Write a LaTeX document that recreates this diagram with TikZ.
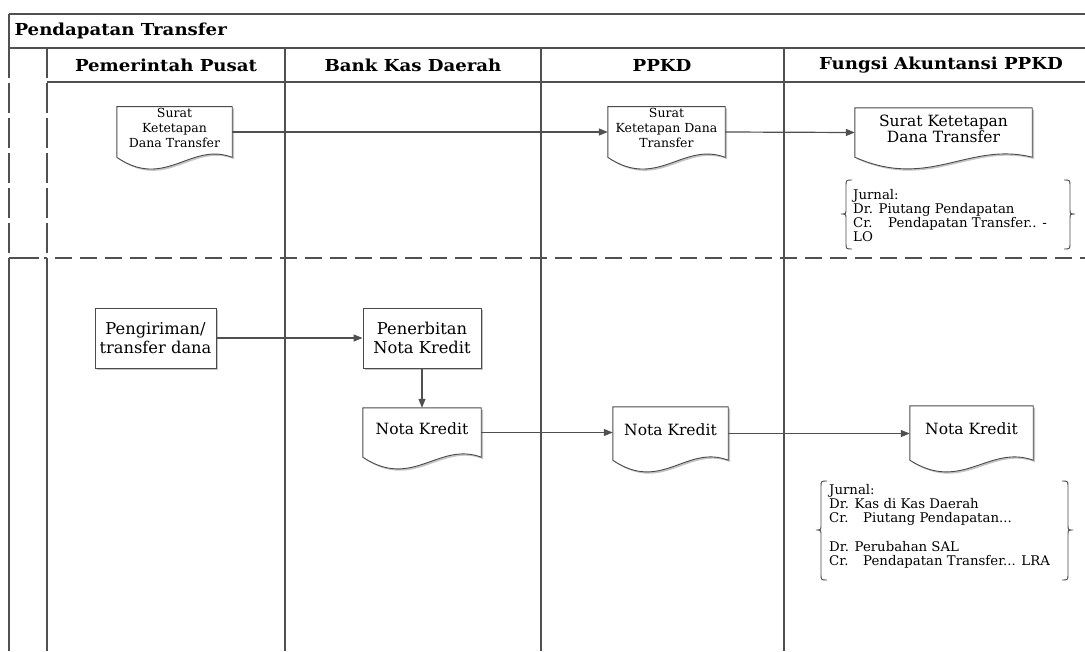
\documentclass[tikz,border=0pt]{standalone}
\usepackage{fontspec}
\setmainfont{DejaVu Serif}
\newfontfamily\headfont[FakeStretch=1.1]{DejaVu Serif}
\usetikzlibrary{arrows.meta,calc,backgrounds,shadows}
\definecolor{lanegray}{HTML}{505050}
\definecolor{shapegray}{HTML}{4A4A4A}
\definecolor{shadowgray}{HTML}{C4C4C4}

\tikzset{
  lane/.style={draw=lanegray, line width=1.3pt},
  lanedash/.style={lane, dash pattern=on 17pt off 8pt},
  stripdash/.style={lane, dash pattern=on 30pt off 5pt},
  proc/.style={draw=shapegray, line width=0.9pt, fill=white, rectangle, align=center,
    font=\fontsize{16.3}{19}\selectfont, inner sep=2pt,
    drop shadow={shadow xshift=1.8pt, shadow yshift=-1.8pt, fill=shadowgray, opacity=1}},
  docnode/.style={draw=none, rectangle, align=center, inner sep=1pt},
  docsmall/.style={docnode, font=\fontsize{12.5}{15}\selectfont, text depth=9pt},
  doclarge/.style={docnode, font=\fontsize{15.5}{16.5}\selectfont, text depth=8pt},
  outline/.style={draw=shapegray, line width=0.9pt, fill=white},
  flow/.style={draw=lanegray, line width=1.2pt, -{Triangle[length=9pt,width=7pt]}},
  head/.style={font=\headfont\bfseries\fontsize{16.5}{19}\selectfont},
  jurnal/.style={align=left, anchor=north west, inner sep=0pt, font=\fontsize{13.3}{14.2}\selectfont},
  bracestyle/.style={draw=shapegray, line width=0.9pt},
}

% outline of a flowchart document symbol around a node
\newcommand\docpath[1]{(#1.south west) -- (#1.north west) -- (#1.north east) -- (#1.south east)
  .. controls ($(#1.south west)!0.64!(#1.south east)+(0,-16)$)
  and ($(#1.south west)!0.42!(#1.south east)+(0,33)$) .. (#1.south west) -- cycle}
\newcommand\docshape[1]{%
  \begin{scope}[on background layer]
    \fill[shadowgray, transform canvas={shift={(1.8pt,-1.8pt)}}] \docpath{#1};
    \draw[outline] \docpath{#1};
  \end{scope}}

% curly brackets around journal entries: x, top, middle, bottom
\newcommand\leftbrace[4]{%
  \draw[bracestyle] (#1+6,#2) .. controls (#1,#2) .. (#1,#2+6) -- (#1,#3-5)
    .. controls (#1,#3) .. (#1-5,#3) .. controls (#1,#3) .. (#1,#3+5)
    -- (#1,#4-6) .. controls (#1,#4) .. (#1+6,#4);}
\newcommand\rightbrace[4]{%
  \draw[bracestyle] (#1-6,#2) .. controls (#1,#2) .. (#1,#2+6) -- (#1,#3-5)
    .. controls (#1,#3) .. (#1+5,#3) .. controls (#1,#3) .. (#1,#3+5)
    -- (#1,#4-6) .. controls (#1,#4) .. (#1-6,#4);}

\begin{document}
\begin{tikzpicture}[x=1pt, y=-1pt]
  \useasboundingbox (0,0) rectangle (1085,651);

  % swimlane frame
  \draw[lane] (9,14) -- (1085,14);
  \draw[lane] (9,48) -- (1085,48);
  \draw[lane] (47,82) -- (1085,82);
  \draw[lane] (9,14) -- (9,48);
  \draw[stripdash] (9,48) -- (9,258);
  \draw[stripdash] (47,48) -- (47,258);
  \draw[stripdash] (9,258) -- (47,258);
  \draw[lane] (9,258) -- (9,651);
  \draw[lane] (47,258) -- (47,651);
  \draw[lanedash, dash phase=17pt] (47,258) -- (1085,258);
  \foreach \x in {285,541,784} \draw[lane] (\x,48) -- (\x,651);

  % titles
  \node[head, anchor=west] (title) at (11,31) {Pendapatan Transfer};
  \node[head] (h1) at (166,65) {Pemerintah Pusat};
  \node[head] (h2) at (413,65) {Bank Kas Daerah};
  \node[head] (h3) at (662,65) {PPKD};
  \node[head] (h4) at (941,65) {Fungsi Akuntansi PPKD};

  % first phase: transfer allocation letter
  \node[docsmall, minimum width=115pt, minimum height=50pt] (d1) at (174.5,132)
    {Surat\\Ketetapan\\Dana Transfer};
  \node[docsmall, minimum width=117pt, minimum height=50pt] (d2) at (666.5,132)
    {Surat\\Ketetapan Dana\\Transfer};
  \node[doclarge, minimum width=177pt, minimum height=49pt] (d3) at (943.5,132.5)
    {Surat Ketetapan\\Dana Transfer};
  \docshape{d1}\docshape{d2}\docshape{d3}

  \node[jurnal] (j1) at (853,189)
    {Jurnal:\\Dr. Piutang Pendapatan\\\makebox[35pt][l]{Cr.}Pendapatan Transfer.. -\\LO};
  \leftbrace{846}{180}{214}{249}
  \rightbrace{1070}{180}{214}{249}

  % second phase: transfer of funds
  \node[proc, minimum width=121pt, minimum height=60pt] (p1) at (155.5,338)
    {Pengiriman/\\transfer dana};
  \node[proc, minimum width=118pt, minimum height=60pt] (p2) at (422,338)
    {Penerbitan\\Nota Kredit};

  \node[doclarge, minimum width=118pt, minimum height=49pt] (n1) at (422,432.5) {Nota Kredit};
  \node[doclarge, minimum width=115pt, minimum height=53pt] (n2) at (670.5,433.5) {Nota Kredit};
  \node[doclarge, minimum width=123pt, minimum height=54pt] (n3) at (971.5,433) {Nota Kredit};
  \docshape{n1}\docshape{n2}\docshape{n3}

  \node[jurnal] (j2) at (829,484)
    {Jurnal:\\Dr. Kas di Kas Daerah\\\makebox[34pt][l]{Cr.}Piutang Pendapatan...\\[14.2pt]
     Dr. Perubahan SAL\\\makebox[34pt][l]{Cr.}Pendapatan Transfer... LRA};
  \leftbrace{821}{481}{530}{580}
  \rightbrace{1068}{481}{530}{580}

  % flows
  \draw[flow] (d1.east) -- (d2.west);
  \draw[flow] (d2.east) -- (d3.west);
  \draw[flow] (p1.east) -- (p2.west);
  \draw[flow] (p2.south) -- (n1.north);
  \draw[flow] (n1.east) -- (n1.east -| n2.west);
  \draw[flow] (n2.east) -- (n2.east -| n3.west);
\end{tikzpicture}
\end{document}
